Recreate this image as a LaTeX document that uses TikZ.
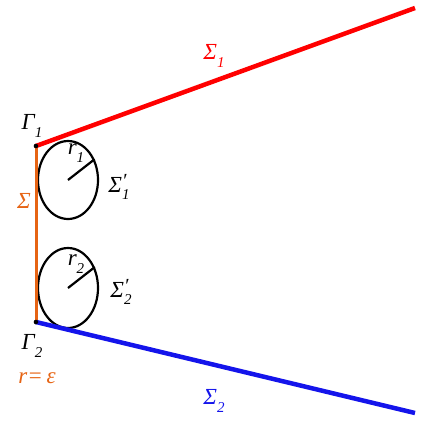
\documentclass[tikz,border=0pt]{standalone}
\usepackage{fontspec}
\setmainfont{Liberation Serif}
\usetikzlibrary{shapes.geometric}
\definecolor{sred}{RGB}{255,0,0}
\definecolor{sblue}{RGB}{20,20,235}
\definecolor{sorange}{RGB}{230,100,20}
\newcommand\lowidx[1]{\raisebox{-0.33em}{\fontsize{15}{15}\selectfont #1}}
\newcommand\hiprime{\rlap{\raisebox{0.2em}{\fontsize{20}{20}\selectfont ′}}}
\begin{document}
\begin{tikzpicture}[x=1pt,y=-1pt,
  lbl/.style={inner sep=0pt,font=\fontsize{23}{25}\selectfont\itshape},
  ring/.style={draw=black,line width=2.2pt,ellipse,minimum width=60pt,minimum height=78pt,inner sep=0pt},
  pt/.style={circle,fill=black,inner sep=0pt,minimum size=4.5pt}]
\useasboundingbox (0,0) rectangle (435,437);
\node[pt] (g1) at (36,146) {};
\node[pt] (g2) at (36,322) {};
\coordinate (e1) at (415,8);
\coordinate (e2) at (415,413);
\node[ring] (c1) at (68,180) {};
\node[ring,minimum height=80pt] (c2) at (68,288) {};
\draw[sorange,line width=3pt] (g1) -- (g2);
\draw[sred,line width=4.5pt] (g1.center) -- (e1);
\draw[sblue,line width=4.5pt] (g2.center) -- (e2);
\node[pt] at (36,146) {};
\node[pt] at (36,322) {};
\draw[line width=2.2pt] (c1.center) -- (c1.38);
\draw[line width=2.2pt] (c2.center) -- (c2.38);
\node[lbl] (lg1) at (32,126) {Γ\lowidx{1}};
\node[lbl] (lg2) at (32,346) {Γ\lowidx{2}};
\node[lbl] (lr1) at (76,153) {r\lowidx{1}};
\node[lbl] (lr2) at (76,264) {r\lowidx{2}};
\node[lbl] (ls1p) at (119,187) {Σ\hiprime\lowidx{1}};
\node[lbl] (ls2p) at (121,292) {Σ\hiprime\lowidx{2}};
\node[lbl,text=sorange] (ls) at (24,201) {Σ};
\node[lbl,text=sorange] (lre) at (37,378) {r=\,ε};
\node[lbl,text=sred] (ls1) at (214,56) {Σ\lowidx{1}};
\node[lbl,text=sblue] (ls2) at (214,401) {Σ\lowidx{2}};
\end{tikzpicture}
\end{document}
